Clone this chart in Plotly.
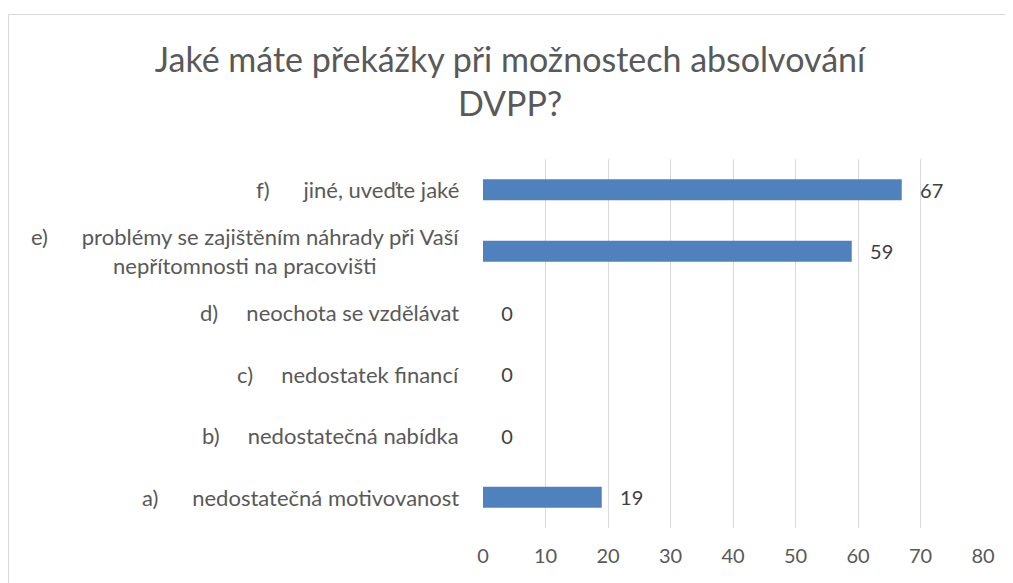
import plotly.graph_objects as go

NB = "\u00a0"

categories = ["a)", "b)", "c)", "d)", "e)", "f)"]
label_texts = [
    "nedostatečná motivovanost",
    "nedostatečná nabídka",
    "nedostatek financí",
    "neochota se vzdělávat",
    "problémy se zajištěním náhrady při Vaší<br>nepřítomnosti na pracovišti",
    "jiné, uveďte jaké",
]
tab_widths = [6, 5, 5, 5, 6, 6]
values = [19, 0, 0, 0, 59, 67]
x_ticks = [0, 10, 20, 30, 40, 50, 60, 70, 80]

title_text = "Jaké máte překážky při možnostech absolvování<br>DVPP?"

FONT = "Lato"
GREY = "#595959"

# page body has an 8px offset; figure sized to fit inside the window
W, H = 1005, 575
L, R_EDGE, T, B_EDGE = 475, 975, 151, 520

fig = go.Figure()
fig.add_trace(go.Bar(
    y=categories,
    x=values,
    orientation="h",
    marker=dict(color="#4f81bd", line=dict(width=0)),
    text=values,
    texttemplate=NB * 3 + "%{x}",
    textposition="outside",
    constraintext="none",
    textfont=dict(family=FONT, size=20, color="#404040"),
    cliponaxis=False,
    hoverinfo="skip",
))

annotations = []
for cat, txt, tw in zip(categories, label_texts, tab_widths):
    full = cat + NB * tw + txt
    annotations.append(dict(
        x=0, xref="paper", y=cat, yref="y",
        xanchor="right", yanchor="middle", xshift=-22,
        text=full, showarrow=False, align="center",
        font=dict(family=FONT, size=22, color=GREY),
    ))

pw = R_EDGE - L
ph = B_EDGE - T
bx0 = (0.5 - L) / pw
by1 = (B_EDGE - 6.5) / ph
border = dict(color="#d9d9d9", width=1.2)

fig.update_layout(
    width=W, height=H,
    paper_bgcolor="white", plot_bgcolor="white",
    margin=dict(l=L, r=W - R_EDGE, t=T, b=H - B_EDGE),
    title=dict(text=title_text, x=502 / W, xanchor="center", xref="container",
               y=1 - (583 * 0.11) / H, yanchor="top", yref="container",
               font=dict(family=FONT, size=34, color=GREY)),
    bargap=0.66,
    showlegend=False,
    annotations=annotations,
    shapes=[
        dict(type="line", xref="paper", yref="paper", x0=bx0, x1=1.2,
             y0=by1, y1=by1, line=border, layer="below"),
        dict(type="line", xref="paper", yref="paper", x0=bx0, x1=bx0,
             y0=-0.5, y1=by1, line=border, layer="below"),
    ],
    xaxis=dict(range=[0, 80], tickvals=x_ticks, showgrid=True,
               gridcolor="#d9d9d9", gridwidth=1.3, zeroline=False,
               showline=False, ticks="", ticklabelstandoff=14,
               tickfont=dict(family=FONT, size=20, color=GREY),
               fixedrange=True),
    yaxis=dict(categoryorder="array", categoryarray=categories,
               showticklabels=False, showgrid=False, zeroline=False,
               showline=False, ticks="", fixedrange=True),
)

fig.write_html("out.html", config={"displayModeBar": False})
